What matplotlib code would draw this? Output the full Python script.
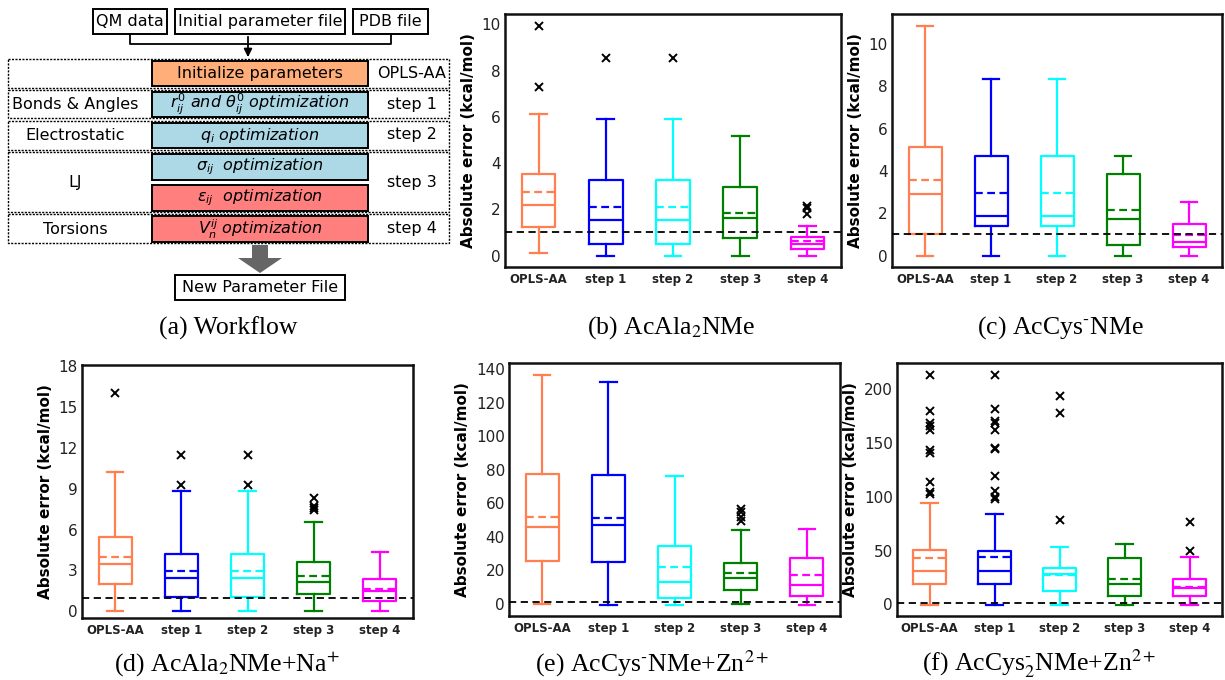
import matplotlib
matplotlib.use("Agg")
import matplotlib.pyplot as plt
from matplotlib.patches import Rectangle, Polygon

plt.rcParams['font.family'] = ['DejaVu Sans']

W, H = 1225, 680

labels = ["OPLS-AA", "step 1", "step 2", "step 3", "step 4"]
colors = ["#FF7F50", "#0000FF", "#00FFFF", "#008000", "#FF00FF"]

# ---- panel (b) AcAla2NMe ----
b_whislo = [0.1, 0.0, 0.0, 0.0, 0.0]
b_q1 = [1.23, 0.49, 0.49, 0.74, 0.30]
b_med = [2.20, 1.52, 1.52, 1.64, 0.48]
b_q3 = [3.52, 3.28, 3.28, 2.97, 0.80]
b_whishi = [6.10, 5.91, 5.91, 5.16, 1.28]
b_mean = [2.74, 2.10, 2.10, 1.84, 0.64]
b_fliers = [[9.95, 7.29], [8.54], [8.54], [], [2.14, 2.04, 1.81]]

# ---- panel (c) AcCys-NMe ----
c_whislo = [0.0, 0.0, 0.0, 0.0, 0.0]
c_q1 = [1.01, 1.41, 1.41, 0.49, 0.38]
c_med = [2.89, 1.88, 1.88, 1.75, 0.66]
c_q3 = [5.15, 4.72, 4.72, 3.85, 1.48]
c_whishi = [10.88, 8.34, 8.34, 4.71, 2.54]
c_mean = [3.57, 2.94, 2.94, 2.16, 0.98]
c_fliers = [[], [], [], [], []]

# ---- panel (d) AcAla2NMe+Na+ ----
d_whislo = [0.0, 0.0, 0.0, 0.0, 0.0]
d_q1 = [1.99, 1.03, 1.03, 1.23, 0.76]
d_med = [3.46, 2.43, 2.43, 2.11, 1.45]
d_q3 = [5.44, 4.24, 4.24, 3.65, 2.38]
d_whishi = [10.22, 8.82, 8.82, 6.54, 4.36]
d_mean = [3.97, 2.97, 2.97, 2.62, 1.64]
d_fliers = [[16.03], [11.47, 9.31], [11.47, 9.31], [8.33, 7.75, 7.58, 7.45], []]

# ---- panel (e) AcCys-NMe+Zn2+ ----
e_whislo = [0.0, -0.4, -0.4, 0.0, -0.4]
e_q1 = [25.4, 24.8, 3.4, 8.1, 4.6]
e_med = [45.9, 47.3, 13.1, 15.3, 11.5]
e_q3 = [77.6, 76.8, 34.7, 24.4, 27.4]
e_whishi = [136.8, 132.4, 76.2, 44.3, 44.9]
e_mean = [52.0, 51.2, 22.2, 18.3, 16.9]
e_fliers = [[], [], [], [56.8, 54.6, 52.0, 49.4], []]

# ---- panel (f) AcCys-2NMe+Zn2+ ----
f_whislo = [0.0, 0.0, 0.0, 0.0, 0.0]
f_q1 = [18.9, 19.2, 12.4, 7.7, 7.7]
f_med = [31.2, 31.2, 28.7, 18.9, 15.5]
f_q3 = [50.4, 49.1, 33.4, 42.7, 23.5]
f_whishi = [94.3, 84.1, 53.2, 56.0, 43.6]
f_mean = [43.3, 43.6, 27.5, 23.8, 16.4]
f_fliers = [[213.0, 179.6, 168.5, 165.4, 161.7, 143.1, 140.0, 113.8, 104.5, 102.0],
            [212.7, 181.1, 170.0, 167.8, 161.7, 144.7, 143.7, 118.7, 105.1, 99.8, 97.4],
            [193.2, 177.4, 77.9], [], [76.4, 49.8]]

ylabel = "Absolute error (kcal/mol)"

fig = plt.figure(figsize=(W / 100, H / 100), dpi=100)

# ---------------- workflow diagram (a) ----------------
ax0 = fig.add_axes([0, 0, 1, 1], zorder=0)
ax0.set_xlim(0, W)
ax0.set_ylim(H, 0)
ax0.axis('off')

fs = 11.5


def box(x0, y0, x1, y1, fc='white', ec='black', lw=1.4, ls='-', z=2):
    ax0.add_patch(Rectangle((x0, y0), x1 - x0, y1 - y0, facecolor=fc, edgecolor=ec,
                            lw=lw, ls=ls, zorder=z))


# input boxes
for (x0, x1, t) in [(93, 167, "QM data"), (175, 345, "Initial parameter file"), (353, 428, "PDB file")]:
    box(x0, 9, x1, 34)
    ax0.text((x0 + x1) / 2, 21.5, t, ha='center', va='center', fontsize=fs, zorder=3)
ax0.plot([130, 130, 391, 391], [34, 44, 44, 34], color='k', lw=1.3, zorder=2)
ax0.annotate("", xy=(248, 60), xytext=(248, 34),
             arrowprops=dict(arrowstyle='-|>', color='k', lw=1.3, mutation_scale=12), zorder=2)

# dotted rows
for (y0, y1) in [(59, 88), (90, 118), (121, 150), (152, 212), (214, 243)]:
    box(8, y0, 449, y1, fc='none', lw=1.0, ls=(0, (1.5, 1.0)), z=1)

c_or, c_bl, c_rd = "#FFAE7A", "#ADD8E6", "#FF7F7F"
rows = [
    (61, 86, c_or, "Initialize parameters", 'normal'),
    (92, 117, c_bl, r"$r^{0}_{ij}$ and $\theta^{0}_{ij}$ optimization", 'italic'),
    (123, 148, c_bl, r"$q_{i}$ optimization", 'italic'),
    (154, 180, c_bl, r"$\sigma_{ij}$  optimization", 'italic'),
    (185, 211, c_rd, r"$\varepsilon_{ij}$  optimization", 'italic'),
    (216, 242, c_rd, r"$V_{n}^{ij}$ optimization", 'italic'),
]
for (y0, y1, fc, t, st) in rows:
    box(152, y0, 368, y1, fc=fc)
    ax0.text(260, (y0 + y1) / 2, t, ha='center', va='center', fontsize=fs, fontstyle=st,
             math_fontfamily='dejavusans', zorder=3)

for (y, t) in [(104, "Bonds & Angles"), (136, "Electrostatic"), (182, "LJ"), (229, "Torsions")]:
    ax0.text(75, y, t, ha='center', va='center', fontsize=fs, zorder=3)
for (y, t) in [(73, "OPLS-AA"), (104, "step 1"), (135, "step 2"), (182, "step 3"), (229, "step 4")]:
    ax0.text(412, y, t, ha='center', va='center', fontsize=fs, zorder=3)

# big gray arrow
ax0.add_patch(Polygon([(252, 245), (268, 245), (268, 258), (282, 258), (260, 273),
                       (238, 258), (252, 258)], closed=True, facecolor='#666666',
                      edgecolor='none', zorder=2))
box(175, 275, 345, 300)
ax0.text(260, 287.5, "New Parameter File", ha='center', va='center', fontsize=fs, zorder=3)

# ---------------- box plot panels ----------------


def make_stats(wl, q1, med, q3, wh, mean, fl):
    return [dict(whislo=wl[i], q1=q1[i], med=med[i], q3=q3[i], whishi=wh[i],
                 mean=mean[i], fliers=fl[i], label=labels[i]) for i in range(len(labels))]


def panel(rect_px, stats, yticks, ylim=None):
    x0, y0, x1, y1 = rect_px
    ax = fig.add_axes([x0 / W, (H - y1) / H, (x1 - x0) / W, (y1 - y0) / H], zorder=2)
    bp = ax.bxp(stats, positions=range(1, 6), widths=0.5, showmeans=True, meanline=True,
                flierprops=dict(marker='x', markeredgecolor='k', markersize=5.5,
                                markeredgewidth=1.4, linestyle='none'))
    lw = 1.6
    for i, c in enumerate(colors):
        bp['boxes'][i].set(color=c, lw=lw)
        bp['medians'][i].set(color=c, lw=lw)
        bp['means'][i].set(color=c, lw=lw, ls=(0, (3.5, 2)))
        for k in (2 * i, 2 * i + 1):
            bp['whiskers'][k].set(color=c, lw=lw)
            bp['caps'][k].set(color=c, lw=lw)
    ax.axhline(1, color='k', ls=(0, (4, 2.5)), lw=1.3, zorder=3)
    ax.set_xlim(0.5, 5.5)
    if ylim is not None:
        ax.set_ylim(*ylim)
    ax.set_yticks(yticks)
    ax.set_xticks(range(1, 6))
    ax.set_xticklabels(labels, fontweight='bold', fontsize=8.5)
    ax.tick_params(axis='both', length=0, colors='#222222')
    ax.tick_params(axis='y', labelsize=11, pad=3)
    ax.tick_params(axis='x', pad=4)
    for s in ax.spines.values():
        s.set_linewidth(1.8)
        s.set_color('#111111')
    ax.set_ylabel(ylabel, fontweight='bold', fontsize=11, labelpad=4)
    return ax


panel((505, 14, 841, 267), make_stats(b_whislo, b_q1, b_med, b_q3, b_whishi, b_mean, b_fliers),
      [0, 2, 4, 6, 8, 10])
panel((892, 14, 1222, 267), make_stats(c_whislo, c_q1, c_med, c_q3, c_whishi, c_mean, c_fliers),
      [0, 2, 4, 6, 8, 10])
panel((82, 365, 413, 618), make_stats(d_whislo, d_q1, d_med, d_q3, d_whishi, d_mean, d_fliers),
      [0, 3, 6, 9, 12, 15, 18], ylim=(-0.5, 18.1))
panel((509, 363, 840, 616), make_stats(e_whislo, e_q1, e_med, e_q3, e_whishi, e_mean, e_fliers),
      [0, 20, 40, 60, 80, 100, 120, 140])
panel((897, 363, 1222, 616), make_stats(f_whislo, f_q1, f_med, f_q3, f_whishi, f_mean, f_fliers),
      [0, 50, 100, 150, 200])

# ---------------- captions ----------------
caps = [
    (228, 328, "(a) Workflow"),
    (671, 328, r"(b) AcAla$_{\mathrm{2}}$NMe"),
    (1060, 328, r"(c) AcCys$^{\text{-}}$NMe"),
    (227, 664, r"(d) AcAla$_{\mathrm{2}}$NMe+Na$^{+}$"),
    (652, 664, r"(e) AcCys$^{\text{-}}$NMe+Zn$^{2+}$"),
    (1039, 664, r"(f) AcCys$^{\text{-}}_{\mathrm{2}}$NMe+Zn$^{2+}$"),
]
for (x, y, t) in caps:
    fig.text(x / W, 1 - y / H, t, ha='center', va='center', fontsize=18.5,
             family='Liberation Serif', math_fontfamily='stix')

fig.savefig("out.png", dpi=100)
